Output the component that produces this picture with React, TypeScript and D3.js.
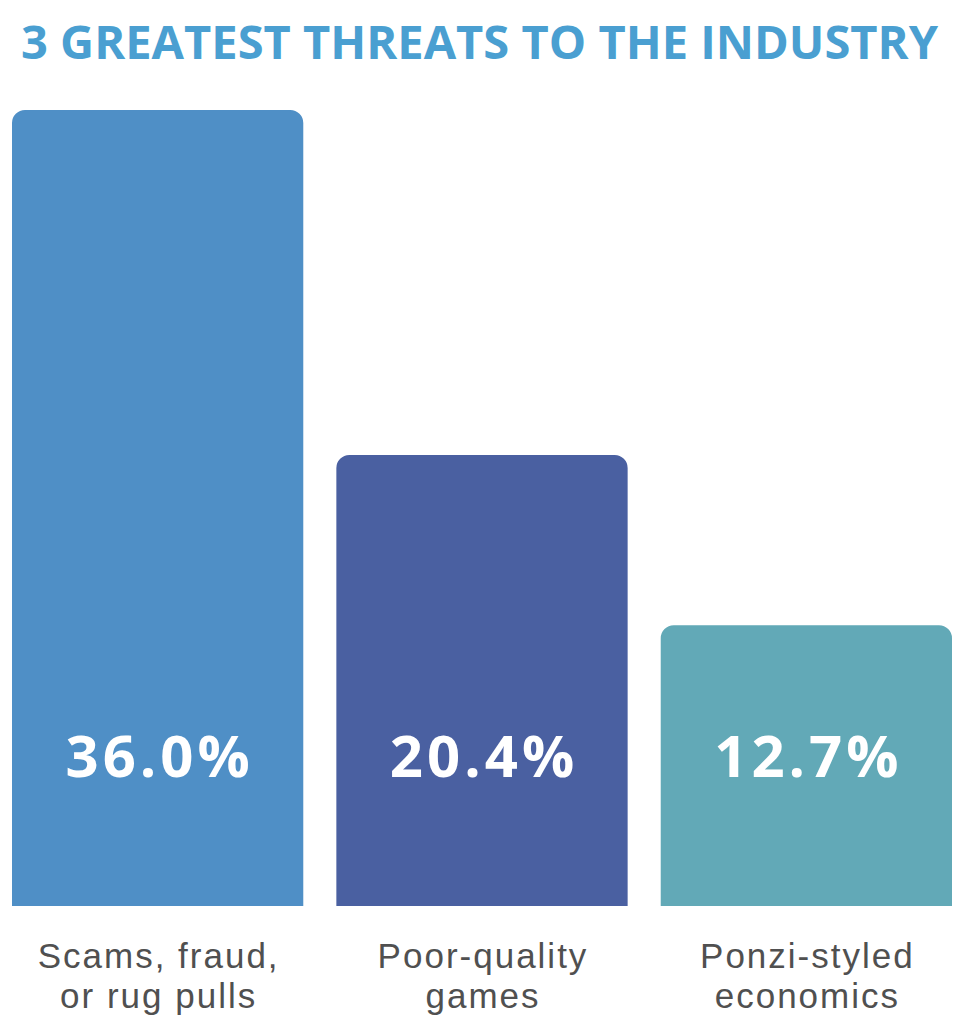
import * as React from 'react'
import * as d3 from 'd3'

const title = '3 GREATEST THREATS TO THE INDUSTRY'
const categories = ['Scams, fraud, or rug pulls', 'Poor-quality games', 'Ponzi-styled economics']
const labelLines = [
  ['Scams, fraud,', 'or rug pulls'],
  ['Poor-quality', 'games'],
  ['Ponzi-styled', 'economics'],
]
const values = [36.0, 20.4, 12.7]
const colors = ['#4F8FC6', '#4A60A1', '#62A9B7']

const W = 962
const H = 1024

// path with rounded top corners only
function topRoundedRect(x: number, y: number, w: number, h: number, r: number) {
  const p = d3.path()
  p.moveTo(x, y + h)
  p.lineTo(x, y + r)
  p.arcTo(x, y, x + r, y, r)
  p.lineTo(x + w - r, y)
  p.arcTo(x + w, y, x + w, y + r, r)
  p.lineTo(x + w, y + h)
  p.closePath()
  return p.toString()
}

export default function App() {
  const svgRef = React.useRef<SVGSVGElement>(null)

  React.useEffect(() => {
    if (!svgRef.current) return
    const svg = d3.select(svgRef.current)
    svg.selectAll('*').remove()

    const x = d3.scaleBand<string>().domain(categories).range([12, 952]).paddingInner(0.102).paddingOuter(0)
    const y = d3
      .scaleLinear()
      .domain([0, d3.max(values) ?? 36])
      .range([906, 110])

    // Title
    svg
      .append('text')
      .attr('x', 21)
      .attr('y', 59)
      .attr('textLength', 917)
      .attr('lengthAdjust', 'spacingAndGlyphs')
      .attr('fill', '#4A9FD1')
      .attr('font-family', 'Open Sans, sans-serif')
      .attr('font-weight', 700)
      .attr('font-size', '47px')
      .text(title)

    const g = svg.append('g')

    categories.forEach((c, i) => {
      const bx = x(c) ?? 0
      const bw = x.bandwidth()
      const cx = bx + bw / 2
      const top = y(values[i])
      const h = y(0) - top
      g.append('path').attr('d', topRoundedRect(bx, top, bw, h, 13)).attr('fill', colors[i])

      g.append('text')
        .attr('x', cx + 2)
        .attr('y', 777)
        .attr('text-anchor', 'middle')
        .attr('fill', '#ffffff')
        .attr('font-family', 'Open Sans, sans-serif')
        .attr('font-weight', 700)
        .attr('font-size', '58px')
        .attr('letter-spacing', '4px')
        .text(`${values[i].toFixed(1)}%`)

      // two-line category label in one text element
      const label = g
        .append('text')
        .attr('text-anchor', 'middle')
        .attr('fill', '#505050')
        .attr('font-family', 'Liberation Sans, Arial, sans-serif')
        .attr('font-weight', 400)
        .attr('font-size', '35px')
        .attr('letter-spacing', '2px')
      labelLines[i].forEach((line, j) => {
        label
          .append('tspan')
          .attr('x', cx + 1)
          .attr('y', 968 + j * 40)
          .text(line)
      })
    })
  }, [])

  return (
    <svg
      ref={svgRef}
      width={W}
      height={H}
      viewBox={`0 0 ${W} ${H}`}
      style={{ position: 'absolute', left: 0, top: 0, background: '#fff' }}
    />
  )
}
